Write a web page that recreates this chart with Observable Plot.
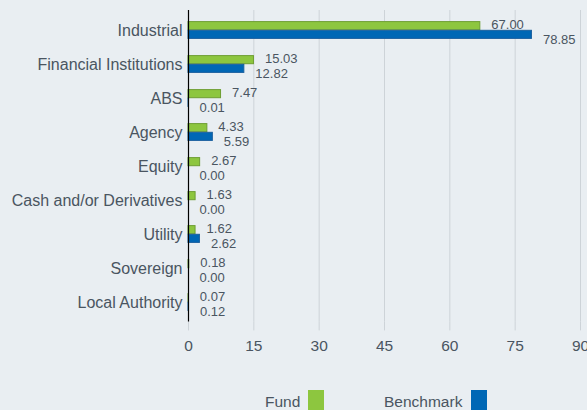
<!DOCTYPE html>
<html>
<head>
<meta charset="utf-8">
<script src="https://cdn.jsdelivr.net/npm/d3@7"></script>
<script src="https://cdn.jsdelivr.net/npm/@observablehq/plot@0.6"></script>
<style>
  html, body { margin: 0; padding: 0; background: #e9eef2; overflow: hidden; width: 587px; height: 410px; }
  #chart svg { display: block; }
  #legend { position: relative; width: 587px; height: 55px; font-family: "Liberation Sans", Arial, sans-serif; color: #4a5561; font-size: 15.5px; }
  #legend span.t { position: absolute; top: 38px; line-height: 18px; }
  #legend span.s { position: absolute; top: 35px; width: 16px; height: 25px; }
</style>
</head>
<body>
<div id="chart"></div>
<div id="legend"></div>
<script>
const categories = ["Industrial","Financial Institutions","ABS","Agency","Equity","Cash and/or Derivatives","Utility","Sovereign","Local Authority"];
const fund = [67.00, 15.03, 7.47, 4.33, 2.67, 1.63, 1.62, 0.18, 0.07];
const benchmark = [78.85, 12.82, 0.01, 5.59, 0.00, 0.00, 2.62, 0.00, 0.12];
const xTicks = [0, 15, 30, 45, 60, 75, 90];
const seriesNames = ["Fund", "Benchmark"];
const seriesColors = ["#8dc63f", "#0067b5"];

const data = categories.map((c, i) => ({cat: c, fund: fund[i], benchmark: benchmark[i]}));
const textColor = "#4a5561";
const gridColor = "#cdd3d8";

const chart = Plot.plot({
  width: 587,
  height: 355,
  marginLeft: 188,
  marginRight: 7,
  marginTop: 10,
  marginBottom: 33.6,
  style: {background: "transparent", fontFamily: "'Liberation Sans', Arial, sans-serif", color: textColor},
  x: {domain: [0, 90]},
  y: {domain: categories, padding: 0},
  marks: [
    Plot.gridX(xTicks, {stroke: gridColor, strokeOpacity: 1}),
    Plot.axisX({ticks: xTicks, tickSize: 9, tickPadding: 9.5, stroke: gridColor, strokeOpacity: 1, fontSize: 15.5, tickFormat: d => String(d), label: null}),
    Plot.axisY({tickSize: 0, tickPadding: 6, fontSize: 16, label: null}),
    Plot.barX(data, {x: "fund", y: "cat", fill: seriesColors[0], stroke: "#6e9e33", strokeWidth: 1, insetTop: 8.6, insetBottom: 17.3}),
    Plot.barX(data, {x: "benchmark", y: "cat", fill: seriesColors[1], stroke: "#1a5f9e", strokeWidth: 1, insetTop: 17.3, insetBottom: 8.6}),
    Plot.ruleX([0], {stroke: "#000", strokeWidth: 1.2}),
    Plot.text(data, {x: "fund", y: "cat", text: d => d.fund.toFixed(2), dx: 11, dy: -5.6, textAnchor: "start", fontSize: 13, fill: textColor}),
    Plot.text(data, {x: "benchmark", y: "cat", text: d => d.benchmark.toFixed(2), dx: 11, dy: 9.4, textAnchor: "start", fontSize: 13, fill: textColor})
  ]
});
document.getElementById("chart").appendChild(chart);

const legend = document.getElementById("legend");
const legendPos = [{t: 265, s: 308}, {t: 384, s: 471}];
seriesNames.forEach((name, i) => {
  const t = document.createElement("span");
  t.className = "t";
  t.style.left = legendPos[i].t + "px";
  t.textContent = name;
  legend.appendChild(t);
  const s = document.createElement("span");
  s.className = "s";
  s.style.left = legendPos[i].s + "px";
  s.style.background = seriesColors[i];
  legend.appendChild(s);
});
</script>
</body>
</html>
